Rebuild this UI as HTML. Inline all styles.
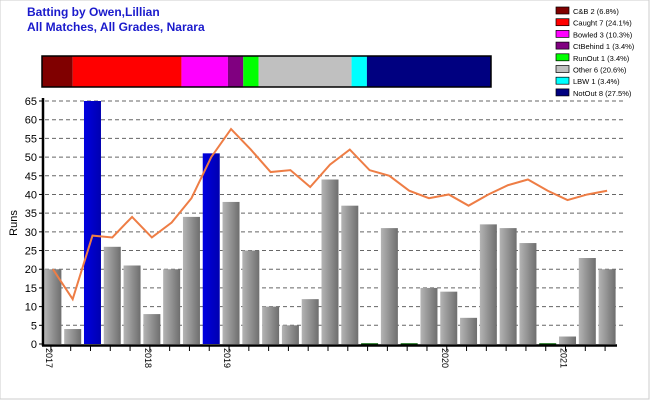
<!DOCTYPE html>
<html><head><meta charset="utf-8"><style>
body{margin:0;background:#fff;}
svg{display:block;font-family:"Liberation Sans",sans-serif;}
</style></head><body>
<svg id="c" width="650" height="400">
<defs>
<linearGradient id="gg" x1="0" x2="1"><stop offset="0" stop-color="#b4b4b4"/><stop offset="1" stop-color="#6e6e6e"/></linearGradient>
<linearGradient id="bg" x1="0" x2="1"><stop offset="0" stop-color="#0000e0"/><stop offset="1" stop-color="#0000b0"/></linearGradient>
</defs>
<rect x="0" y="0" width="649" height="399" fill="#fff" stroke="#ccc"/>
<text x="27" y="16" font-size="12" font-weight="bold" fill="#1a1acc">Batting by Owen,Lillian</text>
<text x="27" y="31" font-size="12" font-weight="bold" fill="#1a1acc">All Matches, All Grades, Narara</text>
<g id="stripe"></g>
<g id="legend"></g>
<g id="grid"></g>
<g id="bars"></g>
<g id="axes"></g>
<text transform="translate(17,223) rotate(-90)" font-size="11" text-anchor="middle">Runs</text>
</svg>
<script>
const runs=[20,4,65,26,21,8,20,34,51,38,25,10,5,12,44,37,0,31,0,15,14,7,32,31,27,0,2,23,20];
const notOut=[0,0,1,0,0,0,0,0,1,0,0,0,0,0,0,0,0,0,0,0,0,0,0,0,0,0,0,0,0];
const avg=[20,12,29,28.5,34,28.5,32.5,39,50,57.5,52,46,46.5,42,48,52,46.5,45,41,39,40,37,40,42.5,44,41,38.5,40,41];
const yTicks=[0,5,10,15,20,25,30,35,40,45,50,55,60,65];
const yearLabels=["2017","2018","2019","2020","2021"];
const yearIdx=[0,5,9,20,26];
const dismissals=["C&B 2 (6.8%)","Caught 7 (24.1%)","Bowled 3 (10.3%)","CtBehind 1 (3.4%)","RunOut 1 (3.4%)","Other 6 (20.6%)","LBW 1 (3.4%)","NotOut 8 (27.5%)"];
const dismissalPct=[6.8,24.1,10.3,3.4,3.4,20.6,3.4,27.5];
const dismissalColors=["#800000","#ff0000","#ff00ff","#800080","#00ff00","#c0c0c0","#00ffff","#000080"];
const NS="http://www.w3.org/2000/svg";
const X0=43,X1=617,Y0=344,Y65=101;
const step=(X1-X0)/runs.length;
const xc=i=>X0+step*(i+0.5);
const y=v=>Y0-(v/65)*(Y0-Y65);
function mk(tag,attrs,parent){const e=document.createElementNS(NS,tag);for(const k in attrs)e.setAttribute(k,attrs[k]);document.getElementById(parent).appendChild(e);return e;}
// stripe
const tot=dismissalPct.reduce((a,b)=>a+b,0);let sx=42;const SW=449;
dismissalPct.forEach((p,i)=>{const w=p/tot*SW;const r=mk('rect',{x:sx,y:56,width:w,height:31,fill:dismissalColors[i]},'stripe');

sx+=w;});
const so=mk('rect',{x:42,y:56,width:SW,height:31,fill:'none',stroke:'#000','stroke-width':1.5},'stripe');


// legend
dismissals.forEach((t,i)=>{const yy=7+i*11.7;
const b=mk('rect',{x:556,y:yy,width:13,height:7,fill:dismissalColors[i],stroke:'#000','stroke-width':0.7},'legend');


const tx=mk('text',{x:573,y:yy+7,'font-size':7.5},'legend');tx.textContent=t;

});
// grid + y ticks
yTicks.forEach(v=>{const yy=y(v);
if(v>0){const g=mk('line',{x1:45,x2:625,y1:yy,y2:yy,stroke:'#666','stroke-dasharray':'4,3','stroke-width':1},'grid');

}
mk('line',{x1:39,x2:43,y1:yy,y2:yy,stroke:'#000'},'axes');
const t=mk('text',{x:37,y:yy+4,'font-size':11,'text-anchor':'end'},'axes');t.textContent=v;

});
// bars
runs.forEach((v,i)=>{const bw=17;const x=xc(i)-bw/2;
if(v===0){const z=mk('line',{x1:x,x2:x+bw,y1:Y0,y2:Y0,stroke:'#006000','stroke-width':1.5},'bars');

return;}
const r=mk('rect',{x:x,y:y(v),width:bw,height:Y0-y(v),fill:notOut[i]?'url(#bg)':'url(#gg)'},'bars');

});
// avg line
const pl=mk('polyline',{points:avg.map((v,i)=>xc(i)+','+y(v)).join(' '),fill:'none',stroke:'#ee7d45','stroke-width':2},'bars');


// axes
const ya=mk('line',{x1:43,x2:43,y1:98,y2:346,stroke:'#000','stroke-width':2.5},'axes');


const xa=mk('line',{x1:42,x2:617,y1:345.5,y2:345.5,stroke:'#000','stroke-width':2.5},'axes');


runs.forEach((v,i)=>{mk('line',{x1:xc(i)-2,x2:xc(i)-2,y1:346,y2:351,stroke:'#000'},'axes');});
yearIdx.forEach((idx,k)=>{const xx=xc(idx)-3;
const t=mk('text',{transform:'translate('+(xx-4)+',348) rotate(90)','font-size':9},'axes');t.textContent=yearLabels[k];

});
</script>
</body></html>
